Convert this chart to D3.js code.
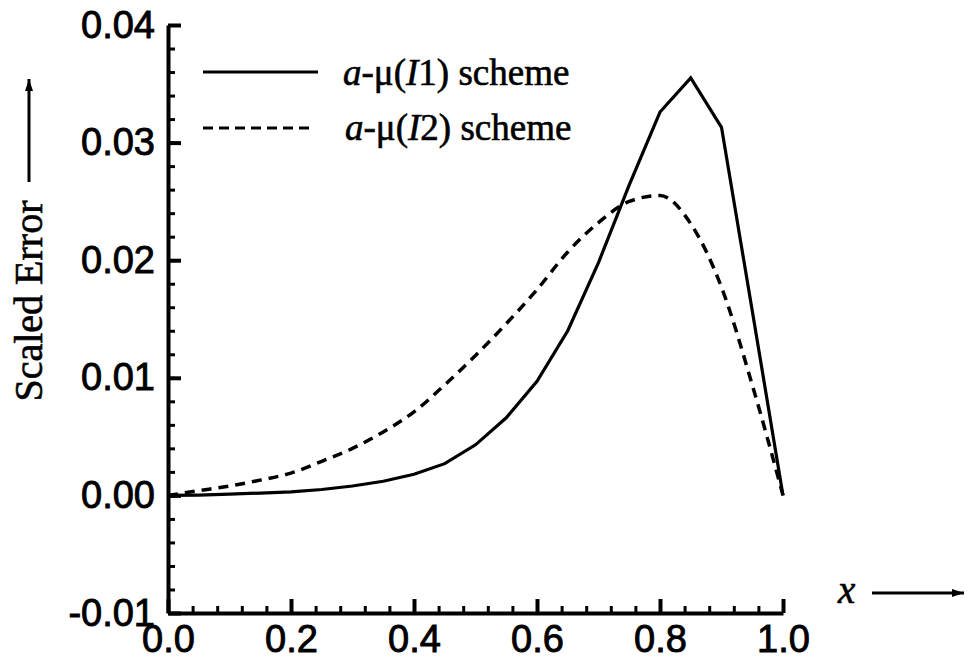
<!DOCTYPE html>
<html>
<head>
<meta charset="utf-8">
<script src="https://cdn.jsdelivr.net/npm/d3@7"></script>
<style>
  body { margin: 0; background: #fff; }
  .tick text { font-family: "Liberation Sans", Arial, sans-serif; font-size: 38px; fill: #000; }
  .serif { font-family: "Liberation Serif", "Times New Roman", serif; fill: #000; }
  .axis path, .axis line { stroke: #000; stroke-width: 4px; }
  .minor line { stroke: #000; stroke-width: 3px; }
</style>
</head>
<body>
<svg width="970" height="659"></svg>
<script>
// values, grid step 0.05 in x
var xs = [0, 0.05, 0.1, 0.15, 0.2, 0.25, 0.3, 0.35, 0.4, 0.45, 0.5,
          0.55, 0.6, 0.65, 0.7, 0.75, 0.8, 0.85, 0.9, 0.95, 1.0];
var schemeI1 = [0, 0.00003, 0.0001, 0.0002, 0.0003, 0.0005, 0.0008, 0.0012, 0.0018, 0.0027, 0.0043,
                0.0066, 0.0097, 0.0140, 0.0198, 0.0264, 0.0326, 0.0355, 0.0313, 0.0157, 0];
var schemeI2 = [0, 0.0004, 0.0008, 0.0013, 0.0019, 0.0029, 0.0040, 0.0054, 0.0071, 0.0094, 0.0119,
                0.0146, 0.0175, 0.0207, 0.0232, 0.0250, 0.0255, 0.0231, 0.0177, 0.0094, 0];
var xTicks = [0, 0.2, 0.4, 0.6, 0.8, 1.0];
var yTicks = [-0.01, 0, 0.01, 0.02, 0.03, 0.04];
var yTickLabels = ["-0.01", "0.00", "0.01", "0.02", "0.03", "0.04"];
var xTickLabels = ["0.0", "0.2", "0.4", "0.6", "0.8", "1.0"];
var legendNames = ["1", "2"];

var svg = d3.select("svg");

var x = d3.scaleLinear().domain([0, 1]).range([168, 783]);
var y = d3.scaleLinear().domain([-0.01, 0.04]).range([613, 25]);

// minor ticks first so the major ones draw on top
svg.append("g")
    .attr("class", "minor")
    .attr("transform", "translate(168,0)")
    .call(d3.axisLeft(y).tickValues(d3.range(-0.01, 0.0401, 0.002)).tickSize(-7).tickFormat(""))
    .call(g => g.select(".domain").remove());

svg.append("g")
    .attr("class", "minor")
    .attr("transform", "translate(0,613)")
    .call(d3.axisBottom(x).tickValues(d3.range(0, 1.001, 0.04)).tickSize(-7).tickFormat(""))
    .call(g => g.select(".domain").remove());

var yAxis = svg.append("g")
    .attr("class", "axis")
    .attr("transform", "translate(168,0)")
    .call(d3.axisLeft(y).tickValues(yTicks).tickSize(-13).tickSizeOuter(0).tickPadding(13)
        .tickFormat((d, i) => yTickLabels[i]));

var xAxis = svg.append("g")
    .attr("class", "axis")
    .attr("transform", "translate(0,613)")
    .call(d3.axisBottom(x).tickValues(xTicks).tickSize(-14).tickSizeOuter(0).tickPadding(12)
        .tickFormat((d, i) => xTickLabels[i]));

[yAxis, xAxis].forEach(function (g) {
    g.selectAll(".tick text").style("stroke", "#000").style("stroke-width", "0.9px");
});

var pts1 = xs.map((d, i) => [d, schemeI1[i]]);
var pts2 = xs.map((d, i) => [d, schemeI2[i]]);

var line = d3.line().x(d => x(d[0])).y(d => y(d[1]));
var smooth = d3.line().x(d => x(d[0])).y(d => y(d[1])).curve(d3.curveMonotoneX);

svg.append("path")
    .datum(pts2)
    .attr("d", smooth)
    .attr("fill", "none")
    .attr("stroke", "#000")
    .attr("stroke-width", 3.5)
    .attr("stroke-dasharray", "10,7");

svg.append("path")
    .datum(pts1)
    .attr("d", line)
    .attr("fill", "none")
    .attr("stroke", "#000")
    .attr("stroke-width", 3.2)
    .attr("stroke-linejoin", "miter");

// legend
var legend = svg.append("g");
legend.append("line")
    .attr("x1", 203).attr("x2", 318).attr("y1", 72).attr("y2", 72)
    .attr("stroke", "#000").attr("stroke-width", 3);
legend.append("line")
    .attr("x1", 203).attr("x2", 313).attr("y1", 128).attr("y2", 128)
    .attr("stroke", "#000").attr("stroke-width", 3).attr("stroke-dasharray", "10,6");

legendNames.forEach(function (n, i) {
    var t = legend.append("text")
        .attr("class", "serif")
        .attr("x", i === 0 ? 343 : 345)
        .attr("y", i === 0 ? 85 : 140)
        .style("font-size", "37px")
        .style("stroke", "#000")
        .style("stroke-width", "0.6px");
    t.append("tspan").style("font-style", "italic").text("a");
    t.append("tspan").text("-\u03bc(");
    t.append("tspan").style("font-style", "italic").text("I");
    t.append("tspan").text(n + ") scheme");
});

// arrow heads
svg.append("defs").append("marker")
    .attr("id", "arrow")
    .attr("viewBox", "0 0 12 8")
    .attr("refX", 12)
    .attr("refY", 4)
    .attr("markerWidth", 13)
    .attr("markerHeight", 8)
    .attr("markerUnits", "userSpaceOnUse")
    .attr("orient", "auto")
    .append("path")
    .attr("d", "M0,0 L12,4 L0,8 Z")
    .attr("fill", "#000");

// y title
svg.append("text")
    .attr("class", "serif")
    .attr("transform", "translate(42,301) rotate(-90)")
    .attr("text-anchor", "middle")
    .style("font-size", "40px")
    .style("stroke", "#000")
    .style("stroke-width", "0.6px")
    .text("Scaled Error");
svg.append("line")
    .attr("x1", 29).attr("y1", 182).attr("x2", 29).attr("y2", 79)
    .attr("stroke", "#000").attr("stroke-width", 3)
    .attr("marker-end", "url(#arrow)");

// x title
svg.append("text")
    .attr("class", "serif")
    .attr("x", 838)
    .attr("y", 603)
    .style("font-size", "39px")
    .style("font-style", "italic")
    .style("stroke", "#000")
    .style("stroke-width", "0.6px")
    .text("x");
svg.append("line")
    .attr("x1", 872).attr("y1", 593).attr("x2", 964).attr("y2", 593)
    .attr("stroke", "#000").attr("stroke-width", 3)
    .attr("marker-end", "url(#arrow)");
</script>
</body>
</html>
